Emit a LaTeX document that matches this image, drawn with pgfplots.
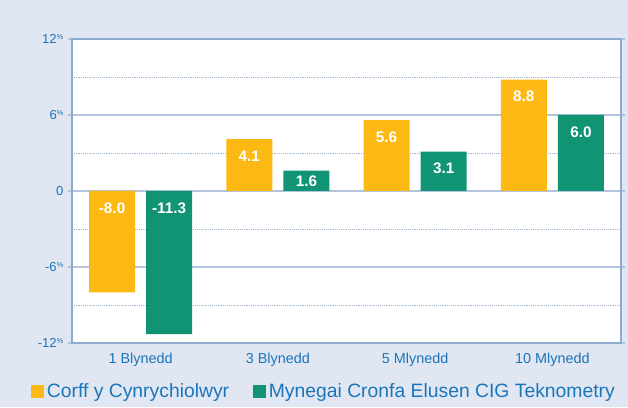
\documentclass[border=0pt]{standalone}
\usepackage{pgfplots}
\pgfplotsset{compat=1.18}
\usepackage{fontspec}
\setmainfont{Liberation Sans}
\definecolor{bg}{HTML}{E1E7F2}
\definecolor{orng}{HTML}{FDB913}
\definecolor{grn}{HTML}{109473}
\definecolor{txtblue}{HTML}{1B75BB}
\definecolor{gridmaj}{HTML}{B3C5DD}
\definecolor{gridmin}{HTML}{9FB4D2}
\definecolor{axisblue}{HTML}{8FAACF}
\newcommand{\pct}{\raisebox{3.2pt}{\fontsize{5.5}{6}\selectfont\%}}
\begin{document}
\begin{tikzpicture}
\fill[bg] (0,0) rectangle (471pt,305.25pt);
\begin{axis}[
  at={(54pt,48pt)}, anchor=south west,
  scale only axis, width=411.75pt, height=228pt,
  xmin=-0.5, xmax=3.5, ymin=-12, ymax=12,
  axis background/.style={fill=white},
  xtick={0,1,2,3},
  xticklabels={1 Blynedd, 3 Blynedd, 5 Mlynedd, 10 Mlynedd},
  ytick={-12,-6,0,6,12},
  yticklabels={-12\pct, -6\pct, 0, 6\pct, 12\pct},
  minor ytick={-9,-3,3,9},
  ymajorgrids, yminorgrids,
  major grid style={gridmaj, line width=1pt},
  minor grid style={gridmin, densely dotted, line width=0.6pt},
  axis line style={axisblue, line width=0.8pt},
  xtick style={draw=none},
  ytick style={gridmaj, line width=1pt},
  major tick length=3pt, minor tick length=0pt, tick align=outside,
  xticklabel style={font=\fontsize{10.8}{12}\selectfont, text=txtblue, yshift=-1pt},
  yticklabel style={font=\fontsize{9.8}{11}\selectfont, text=txtblue},
  legend style={at={(-0.0747,-0.158)}, anchor=west, draw=none, fill=none,
    font=\fontsize{14.5}{16}\selectfont, text=txtblue, inner sep=0pt,
    /tikz/every even column/.append style={column sep=16pt}},
  legend columns=2,
]
\addplot[ybar, fill=orng, draw=none, bar width=0.336, bar shift=-0.208,
  legend image code/.code={\fill[orng] (0pt,-4.9pt) rectangle (9.75pt,4.9pt);}]
  coordinates {(0,-8.0) (1,4.1) (2,5.6) (3,8.8)};
\addlegendentry{Corff y Cynrychiolwyr}
\addplot[ybar, fill=grn, draw=none, bar width=0.336, bar shift=0.208,
  legend image code/.code={\fill[grn] (0pt,-4.9pt) rectangle (9.75pt,4.9pt);}]
  coordinates {(0,-11.3) (1,1.6) (2,3.1) (3,6.0)};
\addlegendentry{Mynegai Cronfa Elusen CIG Teknometry}
\addplot[forget plot, only marks, mark=*, mark size=0pt, mark options={draw=none,fill=none},
  nodes near coords, point meta=explicit symbolic,
  every node near coord/.style={font=\bfseries\fontsize{11.5}{12}\selectfont, text=white, anchor=center, yshift=-12.75pt}]
  coordinates {(-0.208,0)[-8.0] (0.792,4.1)[4.1] (1.792,5.6)[5.6] (2.792,8.8)[8.8]
               (0.208,0)[-11.3] (1.208,2.13)[1.6] (2.208,3.1)[3.1] (3.208,6.0)[6.0]};
\end{axis}
\pgfresetboundingbox
\useasboundingbox (0,0) rectangle (471pt,305.25pt);
\end{tikzpicture}
\end{document}
